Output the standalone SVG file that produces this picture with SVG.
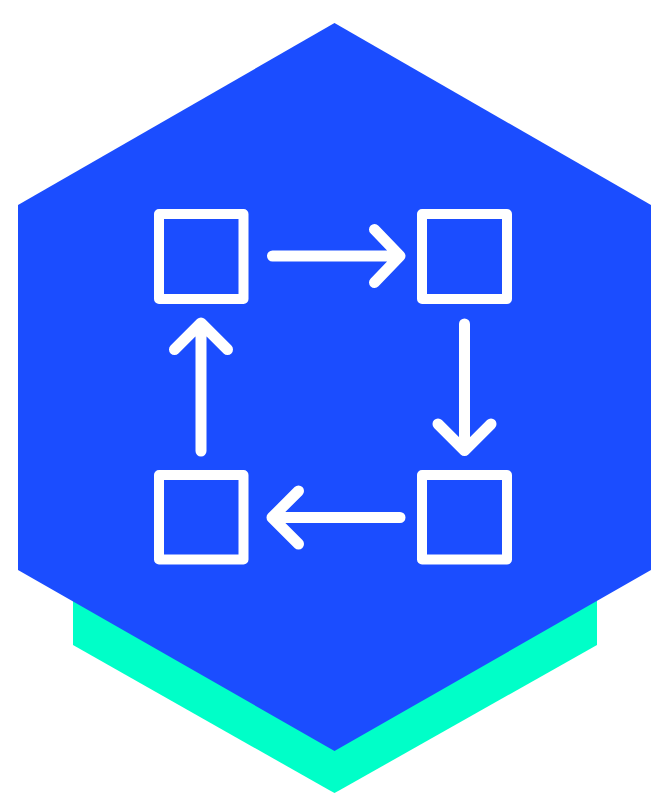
<svg xmlns="http://www.w3.org/2000/svg" width="655" height="793" viewBox="0 0 655 793">
<style>
.box{fill:none;stroke:#fff;stroke-width:10;stroke-linejoin:round}
.arrow{fill:none;stroke:#fff;stroke-width:11;stroke-linecap:round;stroke-linejoin:round}
</style>
<rect width="655" height="793" fill="#fff"/>
<g id="hexagon">
<polygon points="73,590 597,590 597,645 340,790 334.500,793 329,790 73,645" fill="#00ffc8"/>
<polygon points="334.500,23 651,205 651,570 334.500,751 18,570 18,205" fill="#1b4dff"/>
</g>
<g id="node-top-left"><rect class="box" x="159" y="214" width="84.500" height="85"/></g>
<g id="node-top-right"><rect class="box" x="422" y="214" width="85" height="85"/></g>
<g id="node-bottom-right"><rect class="box" x="422" y="475" width="85" height="84.500"/></g>
<g id="node-bottom-left"><rect class="box" x="159" y="475" width="84.500" height="84.500"/></g>
<g id="connectors">
<path class="arrow" d="M272.500 256H399.500M374.500 229.500L400 256L374.500 282.500"/>
<path class="arrow" d="M464.500 324V449M438 424L464.500 450.500L491 424"/>
<path class="arrow" d="M400 517.500H273M298.500 491L272 517.500L298.500 544"/>
<path class="arrow" d="M201 451V324M174.500 349.500L201 323L227.500 349.500"/>
</g>
</svg>
